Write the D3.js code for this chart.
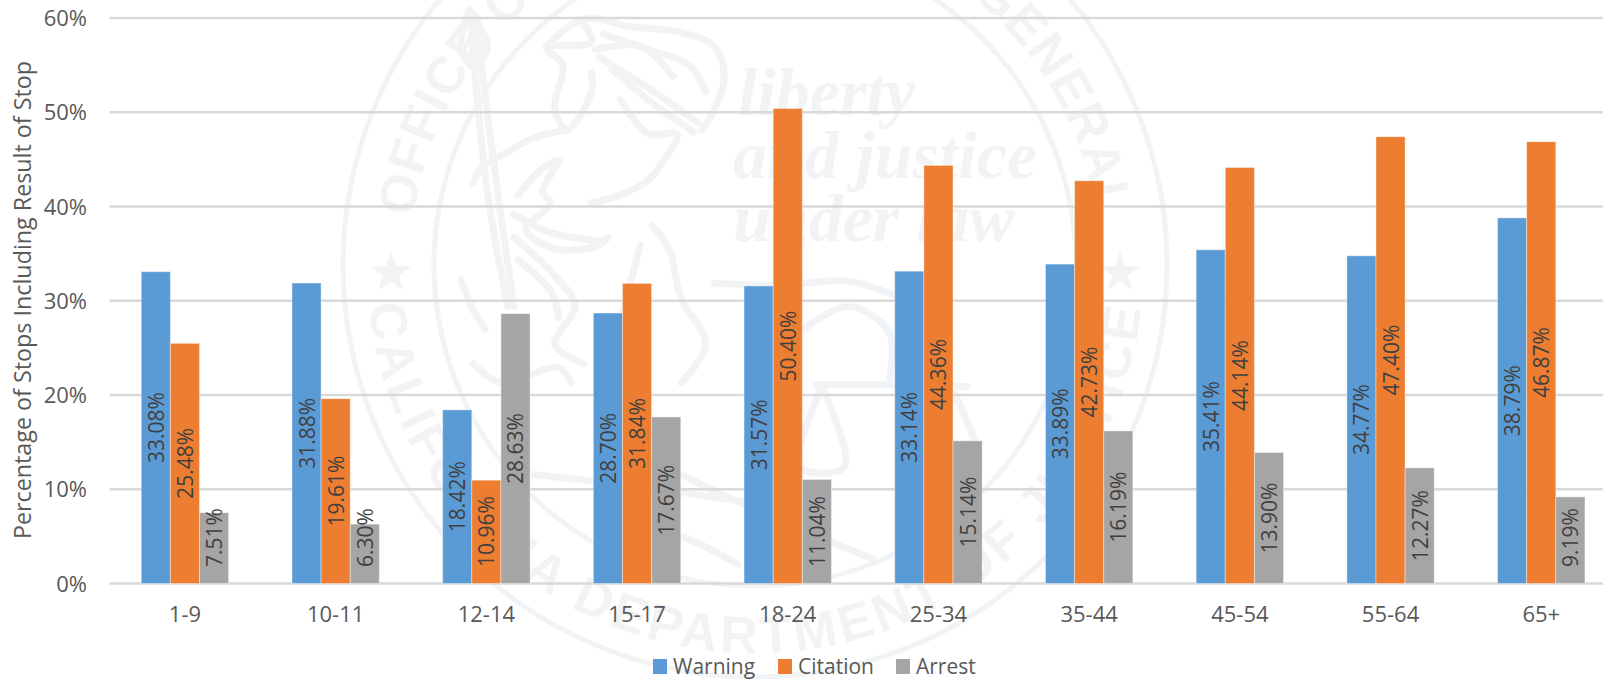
<!DOCTYPE html>
<html lang="en">
<head>
    <meta charset="UTF-8">
    <title>Result of Stop by Age</title>
    <style>
        html, body { margin: 0; padding: 0; background: #fff; overflow: hidden; }
        svg { display: block; }
        text { font-family: "Open Sans", sans-serif; fill: #595959; }
    </style>
    <script src="https://d3js.org/d3.v7.min.js"></script>
</head>
<body>
    <svg width="1603" height="679"></svg>
    <script>
        const categories = ["1-9", "10-11", "12-14", "15-17", "18-24", "25-34", "35-44", "45-54", "55-64", "65+"];
        const seriesNames = ["Warning", "Citation", "Arrest"];
        const warning = [33.08, 31.88, 18.42, 28.70, 31.57, 33.14, 33.89, 35.41, 34.77, 38.79];
        const citation = [25.48, 19.61, 10.96, 31.84, 50.40, 44.36, 42.73, 44.14, 47.40, 46.87];
        const arrest = [7.51, 6.30, 28.63, 17.67, 11.04, 15.14, 16.19, 13.90, 12.27, 9.19];
        const yTicks = [0, 10, 20, 30, 40, 50, 60];
        const colors = ["#5b9bd5", "#ed7d31", "#a5a5a5"];
        const seriesValues = [warning, citation, arrest];

        const svg = d3.select("svg");
        const sealColor = "#f2f3f5";

        // Seal behind the chart
        const seal = svg.append("g").attr("transform", "translate(755,265)");
        [412, 321].forEach(r => {
            seal.append("circle").attr("r", r).attr("fill", "none")
                .attr("stroke", sealColor).attr("stroke-width", 5);
        });
        const defs = svg.append("defs");
        defs.append("path").attr("id", "arcTop").attr("d", "M-345,0 A345,345 0 0 1 345,0");
        defs.append("path").attr("id", "arcBottom").attr("d", "M-388,-20 A388.5,388.5 0 1 0 388,-20");
        [["#arcTop", "OFFICE OF THE ATTORNEY GENERAL", "1px"], ["#arcBottom", "CALIFORNIA DEPARTMENT OF JUSTICE", "4px"]].forEach(t => {
            seal.append("text").append("textPath").attr("href", t[0]).attr("startOffset", "50%")
                .attr("text-anchor", "middle")
                .style("font-family", "Liberation Sans").style("font-size", "52px").style("font-weight", "bold")
                .style("fill", sealColor).style("letter-spacing", t[2])
                .text(t[1]);
        });
        const star = d3.symbol().type(d3.symbolStar).size(520);
        [[-364, 8], [365, 8]].forEach(p => {
            seal.append("path").attr("d", star()).attr("fill", sealColor)
                .attr("transform", `translate(${p[0]},${p[1]})`);
        });
        [["liberty", -17, -150], ["and justice", -22, -87], ["under law", -22, -24]].forEach(t => {
            seal.append("text").attr("x", t[1]).attr("y", t[2])
                .style("font-family", "Liberation Serif").style("font-style", "italic")
                .style("font-weight", "bold").style("font-size", "68px").style("fill", sealColor)
                .text(t[0]);
        });

        // Figure in the seal, traced roughly (zoom crop coordinates)
        const figure = [
            [[120, 25], [100, 130], [135, 175], [165, 120], [120, 25]],
            [[122, 30], [165, 500], [215, 800]],
            [[135, 40], [190, 500], [230, 800]],
            [[310, 120], [400, 50], [520, 70], [640, 85], [720, 120], [745, 200], [720, 290], [690, 340]],
            [[400, 60], [420, 110], [310, 125], [350, 170], [330, 280], [360, 340], [420, 240], [420, 190]],
            [[450, 90], [560, 130], [660, 170], [700, 240]],
            [[430, 130], [540, 120], [620, 200]],
            [[440, 150], [560, 230], [680, 320]],
            [[470, 180], [570, 270], [670, 345]],
            [[360, 340], [280, 360], [210, 400], [150, 440], [130, 480]],
            [[490, 260], [560, 350], [630, 350], [590, 430], [560, 470], [490, 510], [420, 530]],
            [[240, 510], [300, 440], [340, 420], [300, 500], [320, 530], [260, 600], [330, 650], [440, 640], [460, 620]],
            [[230, 560], [300, 600], [370, 620], [450, 630]],
            [[230, 620], [330, 720], [380, 800], [330, 900], [400, 950]],
            [[240, 680], [320, 760], [340, 830]],
            [[570, 590], [610, 650], [640, 780], [700, 900], [640, 1000]],
            [[540, 640], [510, 760], [480, 880]],
            [[720, 740], [880, 745], [1050, 735], [1180, 780]],
            [[940, 860], [1050, 800], [1150, 870], [1150, 990]],
            [[970, 1005], [1150, 1005], [1340, 1010]],
            [[985, 1010], [930, 1220], [1040, 1220], [985, 1010]],
            [[1310, 1030], [1265, 1210], [1365, 1210], [1310, 1030]],
            [[280, 1240], [520, 1270], [790, 1310]],
            [[640, 1240], [900, 1370], [1110, 1460]],
            [[640, 1400], [720, 1440], [780, 1475]],
            [[130, 950], [200, 1000], [340, 960], [370, 1000]],
            [[100, 730], [130, 810], [160, 860]]
        ];
        const cropLine = d3.line()
            .x(p => 420 + p[0] / 2.45)
            .y(p => p[1] / 2.613)
            .curve(d3.curveCatmullRom);
        svg.append("g").selectAll("path").data(figure).enter().append("path")
            .attr("d", cropLine).attr("fill", "none").attr("stroke", sealColor)
            .attr("stroke-width", 7).attr("stroke-linecap", "round");

        // Scales
        const x = d3.scaleBand().domain(categories).range([109.6, 1616.6]).paddingInner(0.42).paddingOuter(0.21);
        const x1 = d3.scaleBand().domain(seriesNames).range([0, x.bandwidth()]);
        const y = d3.scaleLinear().domain([0, 60]).range([583.5, 18]);

        // Grid
        svg.append("g").selectAll("line").data(yTicks).enter().append("line")
            .attr("x1", 109.6).attr("x2", 1616.6)
            .attr("y1", d => y(d)).attr("y2", d => y(d))
            .attr("stroke", "#d9d9d9").attr("stroke-width", 2.5);

        // Y tick labels
        svg.append("g").selectAll("text").data(yTicks).enter().append("text")
            .attr("x", 87).attr("y", d => y(d) + 8)
            .attr("text-anchor", "end").style("font-size", "22px")
            .text(d => d + "%");

        svg.append("text")
            .attr("transform", "translate(31,300) rotate(-90)")
            .attr("text-anchor", "middle").style("font-size", "23.3px")
            .text("Percentage of Stops Including Result of Stop");

        // Category labels
        svg.append("g").selectAll("text").data(categories).enter().append("text")
            .attr("x", d => x(d) + x.bandwidth() / 2).attr("y", 622)
            .attr("text-anchor", "middle").style("font-size", "22px")
            .text(d => d);

        // Bars
        seriesNames.forEach((name, s) => {
            const g = svg.append("g");
            g.selectAll("rect").data(seriesValues[s]).enter().append("rect")
                .attr("x", (d, i) => x(categories[i]) + x1(name))
                .attr("y", d => y(d))
                .attr("width", x1.bandwidth())
                .attr("height", d => y(0) - y(d))
                .attr("fill", colors[s])
                .attr("stroke", "#fff").attr("stroke-opacity", 0.4).attr("stroke-width", 1);
        });

        // Value labels centred on the bars, pushed up when the bar is too short
        seriesNames.forEach((name, s) => {
            svg.append("g").selectAll("text").data(seriesValues[s]).enter().append("text")
                .attr("text-anchor", "start").style("font-size", "21px").style("fill", "#404040")
                .text(d => d.toFixed(2) + "%")
                .attr("transform", function (d, i) {
                    const cx = x(categories[i]) + x1(name) + x1.bandwidth() / 2;
                    const len = this.getComputedTextLength();
                    const bottom = Math.min((y(d) + y(0)) / 2 + len / 2, 567);
                    return `translate(${cx + 8},${bottom}) rotate(-90)`;
                });
        });

        // Legend
        const legendX = [653, 778, 896];
        seriesNames.forEach((name, s) => {
            svg.append("rect").attr("x", legendX[s]).attr("y", 659).attr("width", 14).attr("height", 15).attr("fill", colors[s]);
            svg.append("text").attr("x", legendX[s] + 20).attr("y", 674).style("font-size", "21px").text(name);
        });
    </script>
</body>
</html>
